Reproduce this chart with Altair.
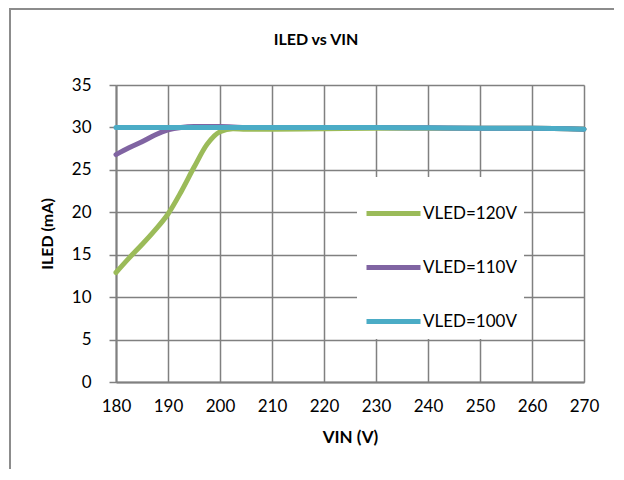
import altair as alt
import pandas as pd

vin = [180, 182.5, 185, 187.5, 190, 192.5, 195, 197.5, 200, 202.5, 205, 210,
       220, 230, 240, 250, 260, 270]
iled_120 = [12.9, 14.6, 16.2, 17.9, 19.8, 22.4, 25.3, 28.0, 29.5, 29.85, 29.8, 29.8,
            29.85, 29.9, 29.9, 29.9, 29.9, 29.8]
iled_110 = [26.8, 27.6, 28.3, 29.1, 29.7, 30.0, 30.1, 30.1, 30.1, 30.05, 30.0, 30.0,
            30.0, 30.0, 29.95, 29.9, 29.9, 29.8]
iled_100 = [30.0, 30.0, 30.0, 30.0, 30.0, 30.0, 30.0, 30.0, 30.0, 30.0, 30.0, 30.0,
            30.0, 30.0, 29.95, 29.9, 29.9, 29.8]
series = ["VLED=120V", "VLED=110V", "VLED=100V"]
colors = ["#9BBB59", "#8064A2", "#4BACC6"]
x_ticks = [180, 190, 200, 210, 220, 230, 240, 250, 260, 270]
y_ticks = [0, 5, 10, 15, 20, 25, 30, 35]
chart_title = "ILED vs VIN"

rows = []
for name, vals in zip(series, [iled_120, iled_110, iled_100]):
    for v, i in zip(vin, vals):
        rows.append({"VIN": v, "ILED": i, "series": name})
df = pd.DataFrame(rows)
one = pd.DataFrame({"t": [chart_title]})

FONT = "Lato"
GRID = "#808080"

x = alt.X("VIN:Q", title="VIN (V)",
          scale=alt.Scale(domain=[180, 270], nice=False, zero=False),
          axis=alt.Axis(values=x_ticks, tickSize=0, labelPadding=16, labelFontSize=17,
                        labelFont=FONT, labelColor="#000000", titleFont=FONT,
                        titleFontSize=17, titleFontWeight="bold", titleColor="#000000",
                        titlePadding=15, grid=True, gridColor=GRID, gridWidth=1.5,
                        domainColor=GRID, domainWidth=2, labelFlush=False))
y = alt.Y("ILED:Q", title="ILED (mA)",
          scale=alt.Scale(domain=[0, 35], nice=False),
          axis=alt.Axis(values=y_ticks, tickSize=7, tickColor=GRID, tickWidth=1.5,
                        labelPadding=18, labelFontSize=17, labelFont=FONT,
                        labelColor="#000000", titleFont=FONT, titleFontSize=16,
                        titleFontWeight="bold", titleColor="#000000", titlePadding=16,
                        grid=True, gridColor=GRID, gridWidth=1.5, domainColor=GRID,
                        domainWidth=2))
color = alt.Color("series:N", title=None,
                  scale=alt.Scale(domain=series, range=colors),
                  legend=alt.Legend(orient="none", legendX=241, legendY=92,
                                    fillColor="#ffffff", padding=7,
                                    symbolType="stroke", symbolStrokeWidth=5,
                                    symbolSize=2916, rowPadding=14,
                                    labelFontSize=17, labelFont=FONT,
                                    labelColor="#000000", labelOffset=0))

layers = []
for name in series:
    layers.append(
        alt.Chart(df).transform_filter(alt.datum.series == name)
        .mark_line(strokeWidth=5, interpolate="monotone", strokeCap="round")
        .encode(x=x, y=y, color=color)
    )

border = alt.Chart(one).mark_rect(fill=None, stroke="#8c8c8c", strokeWidth=2).encode(
    x=alt.value(-106), x2=alt.value(560), y=alt.value(-76), y2=alt.value(460)
)

title = alt.Chart(one).mark_text(font=FONT, fontSize=16, fontWeight="bold",
                                 color="#000000", baseline="middle", align="center").encode(
    text="t:N", x=alt.value(200), y=alt.value(-45)
)

chart = alt.layer(border, *layers, title).properties(
    width=468, height=297,
    autosize=alt.AutoSizeParams(type="none"),
    padding={"left": 108, "top": 77, "right": 30, "bottom": 87},
).configure_view(stroke=None).configure(background="#ffffff")

chart.save("out.html", embed_options={"renderer": "svg", "actions": False})
